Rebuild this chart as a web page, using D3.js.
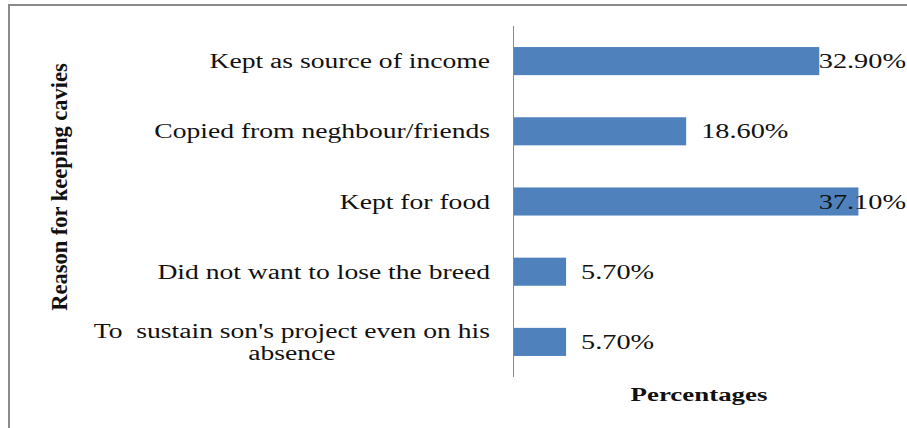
<!DOCTYPE html>
<html>
<head>
<meta charset="utf-8">
<script src="https://cdn.jsdelivr.net/npm/d3@7"></script>
<style>
  body { margin: 0; background: #fff; }
  svg text { font-family: "Liberation Serif", "DejaVu Serif", "Times New Roman", serif; fill: #111; white-space: pre; }
</style>
</head>
<body>
<div id="chart-area"></div>
<script>
// data
var reasons = [
    ["Kept as source of income"],
    ["Copied from neghbour/friends"],
    ["Kept for food"],
    ["Did not want to lose the breed"],
    ["To  sustain son's project even on his", "absence"]
];
var percents = [32.9, 18.6, 37.1, 5.7, 5.7];
var valueLabels = ["32.90%", "18.60%", "37.10%", "5.70%", "5.70%"];

var width = 907, height = 428;
var sx = 1.38;   // the source picture is stretched sideways

var svg = d3.select("#chart-area").append("svg")
    .attr("width", width)
    .attr("height", height);

// outer frame (runs off the right and bottom edges)
svg.append("rect")
    .attr("x", 9).attr("y", 5)
    .attr("width", 1000).attr("height", 600)
    .attr("fill", "none")
    .attr("stroke", "#8a8a8a")
    .attr("stroke-width", 2);

var idx = d3.range(percents.length);

var y = d3.scaleBand()
    .domain(idx)
    .range([26, 377])
    .paddingInner(0.6)
    .paddingOuter(0.3);

var x = d3.scaleLinear()
    .domain([0, 40])
    .range([513, 885.4]);

// bars
svg.selectAll("rect.bar")
    .data(idx)
    .enter().append("rect")
        .attr("class", "bar")
        .attr("x", x(0))
        .attr("y", (d) => { return y(d); })
        .attr("width", (d) => { return x(percents[d]) - x(0); })
        .attr("height", y.bandwidth())
        .attr("fill", "#4f81bd");

// category axis, drawn with d3 then ticks hidden
var yAxis = svg.append("g")
    .attr("transform", "translate(" + x(0) + ",0)")
    .call(d3.axisLeft(y).tickSize(0).tickFormat(""));
yAxis.select(".domain").remove();
svg.append("line")
    .attr("x1", x(0) + 0.5).attr("x2", x(0) + 0.5)
    .attr("y1", 26).attr("y2", 377)
    .attr("stroke", "#8a8a8a");

// category labels, right aligned, multi-line ones centred in their block
var catSize = 20, lineH = 22;
idx.forEach((i) => {
    var lines = reasons[i];
    var cy = y(i) + y.bandwidth() / 2;
    var g = svg.append("g");
    var texts = lines.map((ln, k) => {
        return g.append("text")
            .attr("font-size", catSize + "px")
            .attr("text-anchor", "middle")
            .text(ln);
    });
    var w = d3.max(texts, (t) => { return t.node().getComputedTextLength(); }) * sx;
    var cx = 490 - w / 2;
    var top = cy - (lines.length - 1) * lineH / 2 + 7;
    texts.forEach((t, k) => {
        t.attr("transform", "translate(" + cx + "," + (top + k * lineH) + ") scale(" + sx + ",1)");
    });
});

// value labels
idx.forEach((i) => {
    var t = svg.append("text")
        .attr("font-size", "20.5px")
        .text(valueLabels[i]);
    var w = t.node().getComputedTextLength() * sx;
    var lx = Math.min(x(percents[i]) + 15, width - w - 1);
    t.attr("transform", "translate(" + lx + "," + (y(i) + y.bandwidth() / 2 + 7) + ") scale(" + sx + ",1)");
});

// axis titles
svg.append("text")
    .attr("font-size", "19.5px")
    .attr("font-weight", "bold")
    .attr("text-anchor", "middle")
    .attr("transform", "translate(699,401) scale(" + sx + ",1)")
    .text("Percentages");

svg.append("text")
    .attr("font-size", "22.5px")
    .attr("font-weight", "bold")
    .attr("text-anchor", "middle")
    .attr("transform", "translate(67,187) rotate(-90)")
    .text("Reason for keeping cavies");
</script>
</body>
</html>
